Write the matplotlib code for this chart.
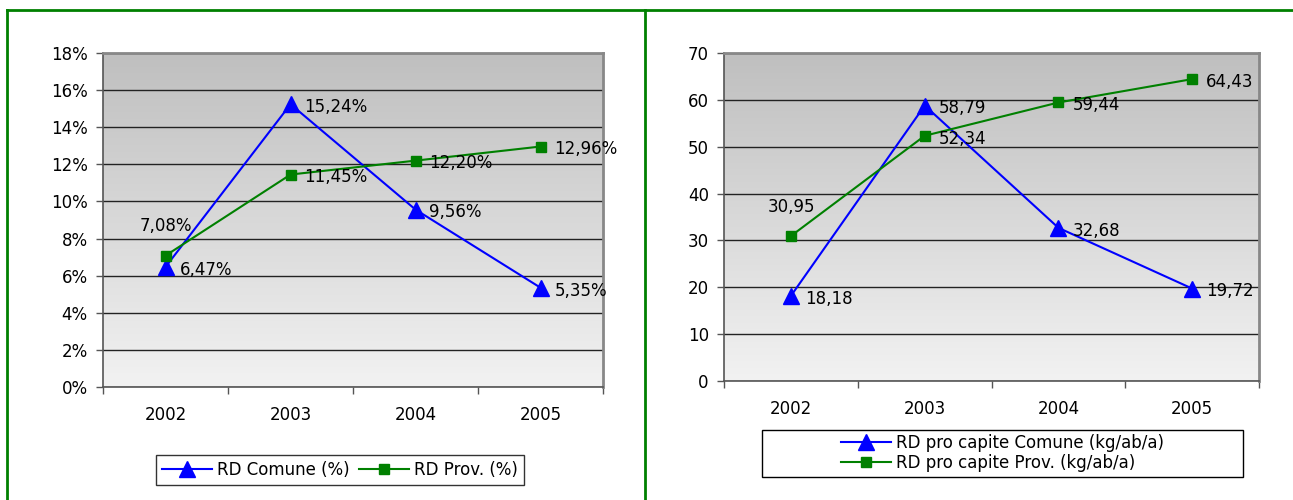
import numpy as np
import matplotlib.pyplot as plt
from matplotlib.lines import Line2D
from matplotlib.patches import Rectangle

plt.rcParams['font.family'] = ['DejaVu Sans']

anni = ['2002', '2003', '2004', '2005']

# percentuale RD
rd_comune = [6.47, 15.24, 9.56, 5.35]
rd_prov = [7.08, 11.45, 12.20, 12.96]
lbl_comune = ['6,47%', '15,24%', '9,56%', '5,35%']
lbl_prov = ['7,08%', '11,45%', '12,20%', '12,96%']

# RD pro capite
pc_comune = [18.18, 58.79, 32.68, 19.72]
pc_prov = [30.95, 52.34, 59.44, 64.43]
lbl_pc_comune = ['18,18', '58,79', '32,68', '19,72']
lbl_pc_prov = ['30,95', '52,34', '59,44', '64,43']

BLUE = '#0000ff'
GREEN = '#008000'
FS = 12

fig = plt.figure(figsize=(12.93, 5), dpi=100)

# bordo verde
fig.add_artist(Line2D([0.0054, 1.0], [0.98, 0.98], color=GREEN, lw=2))
fig.add_artist(Line2D([0.0054, 0.0054], [0.0, 0.98], color=GREEN, lw=2))
fig.add_artist(Line2D([0.4988, 0.4988], [0.0, 0.98], color=GREEN, lw=2))


def pannello(ax, ymax, ystep, yfmt):
    grad = np.linspace(0, 1, 256).reshape(-1, 1)
    ax.imshow(grad, cmap=plt.matplotlib.colors.LinearSegmentedColormap.from_list(
        'g', ['#f2f2f2', '#bfbfbf']), origin='lower', aspect='auto',
        extent=[0, 1, 0, 1], transform=ax.transAxes, zorder=0)
    ax.set_xlim(-0.5, 3.5)
    ax.set_ylim(0, ymax)
    ax.set_yticks(np.arange(0, ymax + ystep / 2, ystep))
    ax.set_yticklabels([yfmt(v) for v in np.arange(0, ymax + ystep / 2, ystep)])
    ax.set_xticks(range(4))
    ax.set_xticklabels(anni)
    ax.set_xticks(np.arange(-0.5, 4, 1), minor=True)
    ax.tick_params(axis='x', which='major', length=0, pad=14, labelsize=FS)
    ax.tick_params(axis='x', which='minor', length=5, width=1, color='#555555')
    ax.tick_params(axis='y', length=5, width=1, pad=6, labelsize=FS, color='#555555')
    ax.grid(axis='y', color='#222222', lw=1)
    ax.set_axisbelow(True)
    for s in ['left', 'bottom']:
        ax.spines[s].set_color('#555555')
        ax.spines[s].set_linewidth(1.2)
    for s in ['top', 'right']:
        ax.spines[s].set_color('#888888')
        ax.spines[s].set_linewidth(2)


def etichette(ax, vals, lbls, sopra=None):
    for i, (v, t) in enumerate(zip(vals, lbls)):
        if i == sopra:
            ax.annotate(t, (i, v), xytext=(0, 21), textcoords='offset points',
                        ha='center', va='center', fontsize=FS)
        else:
            ax.annotate(t, (i, v), xytext=(10, -2), textcoords='offset points',
                        ha='left', va='center', fontsize=FS)


# pannello sinistro
ax1 = fig.add_axes([0.0797, 0.226, 0.3867, 0.668])
pannello(ax1, 18, 2, lambda v: f'{v:.0f}%')
ax1.plot(range(4), rd_comune, color=BLUE, lw=1.5, marker='^', ms=12,
         label='RD Comune (%)', zorder=3)
ax1.plot(range(4), rd_prov, color=GREEN, lw=1.5, marker='s', ms=7,
         label='RD Prov. (%)', zorder=3)
etichette(ax1, rd_comune, lbl_comune)
etichette(ax1, rd_prov, lbl_prov, sopra=0)
leg1 = fig.legend(handles=ax1.get_lines(), loc='center', ncol=2,
                  bbox_to_anchor=(0.263, 0.06), fontsize=FS, frameon=True,
                  fancybox=False, edgecolor='black', handlelength=3,
                  columnspacing=0.6, handletextpad=0.3, borderpad=0.35)
leg1.get_frame().set_linewidth(1)

# pannello destro
ax2 = fig.add_axes([0.56, 0.238, 0.4138, 0.656])
pannello(ax2, 70, 10, lambda v: f'{v:.0f}')
ax2.plot(range(4), pc_comune, color=BLUE, lw=1.5, marker='^', ms=12,
         label='RD pro capite Comune (kg/ab/a)', zorder=3)
ax2.plot(range(4), pc_prov, color=GREEN, lw=1.5, marker='s', ms=7,
         label='RD pro capite Prov. (kg/ab/a)', zorder=3)
etichette(ax2, pc_comune, lbl_pc_comune)
etichette(ax2, pc_prov, lbl_pc_prov, sopra=0)
fig.legend(handles=ax2.get_lines(), loc='center', ncol=1,
           bbox_to_anchor=(0.775, 0.094), fontsize=FS, frameon=False,
           handlelength=3, handletextpad=0.3, borderpad=0.3, labelspacing=0.1)
# riquadro della legenda, più largo del contenuto
fig.add_artist(Rectangle((762 / 1293, 1 - 477 / 500), 481 / 1293, 47 / 500,
                         transform=fig.transFigure, fill=False,
                         edgecolor='black', lw=1))

fig.savefig('out.png', dpi=100)
